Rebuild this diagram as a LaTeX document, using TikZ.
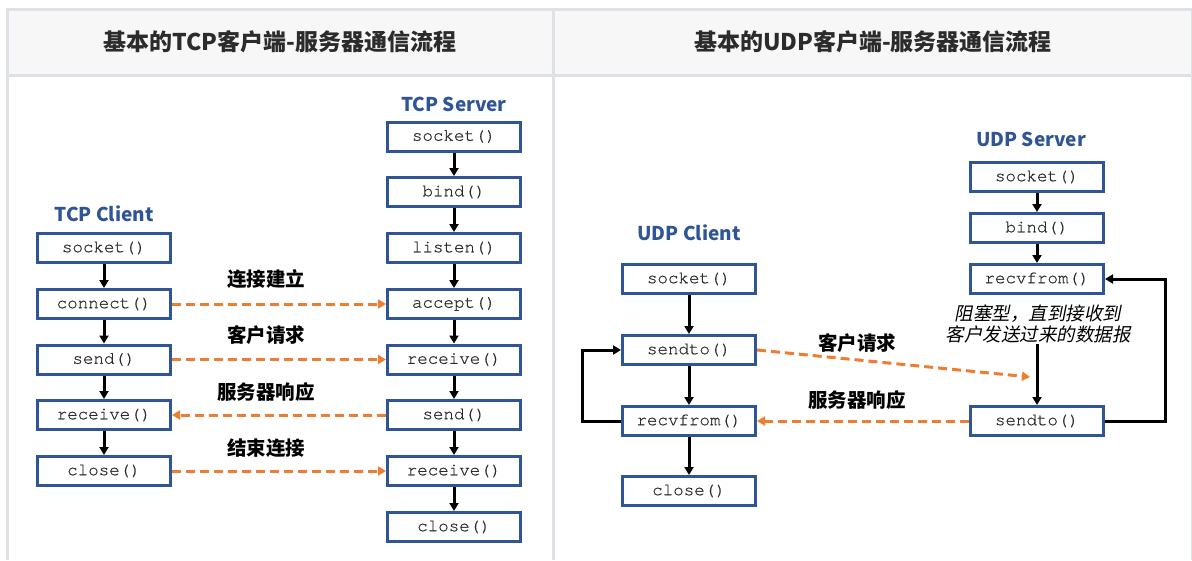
\documentclass[tikz,border=0pt]{standalone}
\usepackage{fontspec}
\setmainfont{Liberation Sans}
\newfontfamily\cjk{Noto Sans CJK SC}
\newfontfamily\cjkit{Noto Sans CJK SC}[FakeSlant=0.2]
\newfontfamily\mono{TeX Gyre Cursor}[FakeBold=0.6]
\usetikzlibrary{arrows.meta}
\definecolor{boxblue}{HTML}{2F5597}
\definecolor{orng}{HTML}{ED7D31}
\definecolor{hdrfill}{HTML}{F7F7F7}
\definecolor{rule}{HTML}{DEE2E6}
\definecolor{txt}{HTML}{2B2B2B}
\begin{document}
\begin{tikzpicture}[x=1pt,y=-1pt,
  fn/.style={draw=boxblue, line width=3pt, minimum width=133pt, minimum height=29pt, inner sep=0pt, fill=white, text=txt, font=\mono\fontsize{17.5}{18}\selectfont},
  hd/.style={text=boxblue, font=\cjk\bfseries\fontsize{19}{22}\selectfont},
  lab/.style={text=black, font=\cjk\bfseries\fontsize{19.5}{22}\selectfont},
  ttl/.style={text=txt, font=\cjk\bfseries\fontsize{23}{28}\selectfont},
  note/.style={text=black, align=center, font=\cjkit\fontsize{18.5}{21}\selectfont, inner sep=1pt},
  arr/.style={draw=black, line width=3pt, -{Triangle[length=8pt,width=9pt]}},
  oarr/.style={draw=orng, line width=3pt, dash pattern=on 9pt off 5pt, -{Triangle[length=8pt,width=9pt]}},
  grid/.style={draw=rule, line width=3pt}
]
\useasboundingbox (0,0) rectangle (1192,560);
\fill[white] (0,0) rectangle (1192,560);
% table
\fill[hdrfill] (7.5,9.5) rectangle (1191,75.5);
\draw[grid] (6,9.5) -- (1192,9.5);
\draw[grid] (6,75.5) -- (1192,75.5);
\draw[grid] (7.5,8) -- (7.5,560);
\draw[grid] (553.5,8) -- (553.5,560);
\draw[draw=rule, line width=1.2pt] (1191.4,8) -- (1191.4,560);
\node[ttl] (t1) at (280,42) {基本的TCP客户端-服务器通信流程};
\node[ttl] (t2) at (873,42) {基本的UDP客户端-服务器通信流程};

% TCP client
\node[hd] (tch) at (104,214) {TCP Client};
\node[fn] (c1) at (104,248) {socket()};
\node[fn] (c2) at (104,304) {connect()};
\node[fn] (c3) at (104,359.5) {send()};
\node[fn] (c4) at (104,415) {receive()};
\node[fn] (c5) at (104,471) {close()};
% TCP server
\node[hd] (tsh) at (454,104) {TCP Server};
\node[fn] (s1) at (454,136.5) {socket()};
\node[fn] (s2) at (454,192) {bind()};
\node[fn] (s3) at (454,248) {listen()};
\node[fn] (s4) at (454,304) {accept()};
\node[fn] (s5) at (454,359.5) {receive()};
\node[fn] (s6) at (454,415) {send()};
\node[fn] (s7) at (454,471) {receive()};
\node[fn] (s8) at (454,527) {close()};
\foreach \a/\b in {c1/c2,c2/c3,c3/c4,c4/c5,s1/s2,s2/s3,s3/s4,s4/s5,s5/s6,s6/s7,s7/s8}
  \draw[arr] (\a.south) -- (\b.north);
\draw[oarr] (c2.east) -- (s4.west);
\draw[oarr] (c3.east) -- (s5.west);
\draw[oarr] (s6.west) -- (c4.east);
\draw[oarr] (c5.east) -- (s7.west);
\node[lab] (l1) at (266,279) {连接建立};
\node[lab] (l2) at (266,335) {客户请求};
\node[lab] (l3) at (266,392) {服务器响应};
\node[lab] (l4) at (266,448) {结束连接};

% UDP client
\node[hd] (uch) at (689,233) {UDP Client};
\node[fn] (u1) at (689,279) {socket()};
\node[fn] (u2) at (689,350) {sendto()};
\node[fn] (u3) at (689,421) {recvfrom()};
\node[fn] (u4) at (689,491) {close()};
\draw[arr] (u1.south) -- (u2.north);
\draw[arr] (u2.south) -- (u3.north);
\draw[arr] (u3.south) -- (u4.north);
\draw[arr] (u3.west) -- ++(-39,0) |- (u2.west);

% UDP server
\node[hd] (ush) at (1031,139) {UDP Server};
\node[fn] (v1) at (1037,177) {socket()};
\node[fn] (v2) at (1037,228) {bind()};
\node[fn] (v3) at (1037,279) {recvfrom()};
\node[note] (nt) at (1038,324) {阻塞型，直到接收到\\客户发送过来的数据报};
\node[fn] (v4) at (1037,421) {sendto()};
\draw[arr] (v1.south) -- (v2.north);
\draw[arr] (v2.south) -- (v3.north);
\draw[arr] (v4.north |- nt.south) -- (v4.north);
\draw[arr] (v4.east) -- ++(60,0) |- (v3.east);

\coordinate (rq) at (1030,377);
\draw[oarr] (u2.east) -- (rq);
\draw[oarr] (v4.west) -- (u3.east);
\node[lab] (m1) at (857,343) {客户请求};
\node[lab] (m2) at (857,400) {服务器响应};
\end{tikzpicture}
\end{document}
